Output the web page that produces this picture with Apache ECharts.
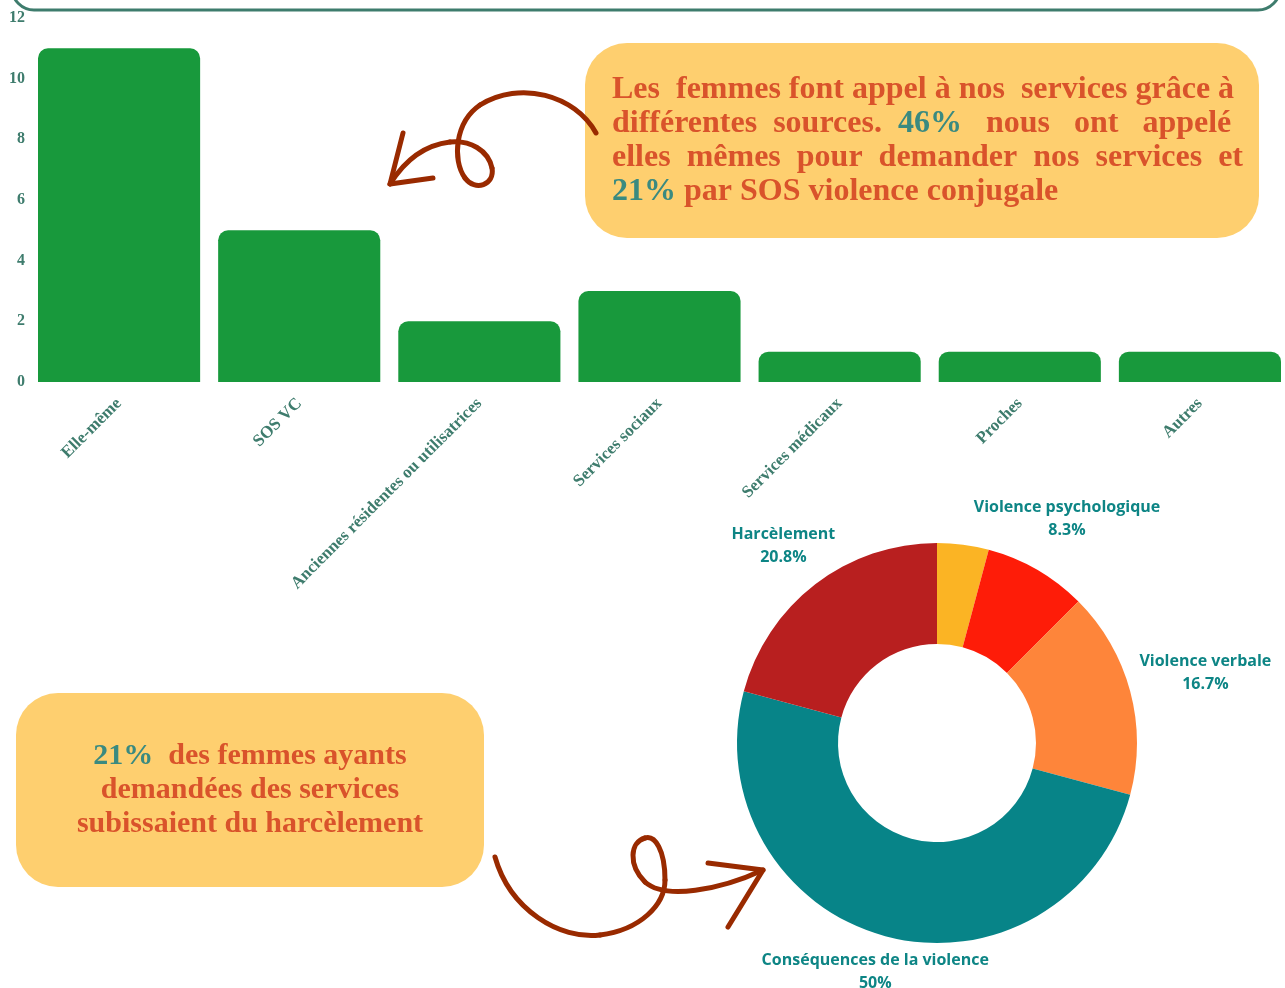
<!DOCTYPE html>
<html>
<head>
<meta charset="utf-8">
<script src="https://cdn.jsdelivr.net/npm/echarts@6/dist/echarts.min.js"></script>
<style>
  html, body { margin: 0; padding: 0; background: #fff; overflow: hidden; }
  /* a little wider than the window: the last bar runs right to the edge */
  #chart { width: 1300px; height: 988px; }
</style>
</head>
<body>
<div id="chart"></div>
<script>
// sources de demandes (bar chart)
const sourceLabels = ['Elle-même', 'SOS VC', 'Anciennes résidentes ou utilisatrices', 'Services sociaux', 'Services médicaux', 'Proches', 'Autres'];
const sourceCounts = [11, 5, 2, 3, 1, 1, 1];
const yTicks = [0, 2, 4, 6, 8, 10, 12];

// types de violence (donut), clockwise from the top
const violenceNames = ['Autres', 'Violence psychologique', 'Violence verbale', 'Conséquences de la violence', 'Harcèlement'];
const violenceCounts = [1, 2, 4, 12, 5];
const violenceColors = ['#fbb424', '#fe1c08', '#fe853a', '#078488', '#b81f1f'];
// small nudges so each label sits where the original put it
const violenceLabelOffsets = [[0, 0], [3, -4], [23, -4], [4, -16], [1, 4]];

const TEAL = '#3e7c6d';
const ORANGE = '#d9532b';
const BOX = '#fecf6f';
const BROWN = '#992a00';
const SERIF = '"Liberation Serif", "DejaVu Serif", serif';

const pieData = violenceNames.map((n, i) => ({
  name: n,
  value: violenceCounts[i],
  itemStyle: { color: violenceColors[i] },
}));
const total = violenceCounts.reduce((a, b) => a + b, 0);
const labelData = violenceNames.map((n, i) => ({
  name: n,
  value: violenceCounts[i],
  label: { show: i !== 0, offset: violenceLabelOffsets[i] },
}));

// hand-drawn arrows: [x1, y1, cpx1, cpy1, cpx2, cpy2, x2, y2] pieces + arrow head
const arrowTop = [
  [596, 133, 575, 95, 520, 80, 480, 105],
  [480, 105, 455, 122, 452, 160, 465, 178],
  [465, 178, 475, 192, 495, 185, 492, 168],
  [492, 168, 488, 150, 470, 140, 450, 142],
  [450, 142, 425, 145, 405, 160, 390, 184],
];
const arrowTopHead = [[403, 133], [390, 184], [433, 178]];
const arrowBottom = [
  [495, 857, 510, 910, 560, 940, 600, 935],
  [600, 935, 640, 930, 665, 905, 665, 880],
  [665, 880, 665, 850, 655, 835, 645, 838],
  [645, 838, 630, 842, 628, 865, 645, 882],
  [645, 882, 665, 900, 720, 890, 763, 870],
];
const arrowBottomHead = [[708, 863], [763, 870], [728, 927]];

const strokeStyle = { fill: 'none', stroke: BROWN, lineWidth: 5, lineCap: 'round', lineJoin: 'round' };
function arrowGraphics(pieces, head) {
  const out = pieces.map((s) => ({
    type: 'bezierCurve', z: 12,
    shape: { x1: s[0], y1: s[1], cpx1: s[2], cpy1: s[3], cpx2: s[4], cpy2: s[5], x2: s[6], y2: s[7] },
    style: strokeStyle,
  }));
  out.push({ type: 'polyline', z: 12, shape: { points: head }, style: strokeStyle });
  return out;
}

const chart = echarts.init(document.getElementById('chart'), null, { renderer: 'canvas' });

chart.setOption({
  backgroundColor: '#fff',
  animation: false,
  grid: { left: 29, top: 18, width: 1261, bottom: 606, containLabel: false },
  xAxis: {
    type: 'category',
    data: sourceLabels,
    axisLine: { show: false },
    axisTick: { show: false },
    axisLabel: {
      interval: 0, rotate: 45, margin: 19,
      fontFamily: SERIF, fontWeight: 'bold', fontSize: 17, color: TEAL,
    },
  },
  yAxis: {
    type: 'value',
    min: yTicks[0], max: yTicks[yTicks.length - 1], interval: 2,
    axisLine: { show: false },
    axisTick: { show: false },
    splitLine: { show: false },
    axisLabel: { margin: 4, fontFamily: SERIF, fontWeight: 'bold', fontSize: 16, color: TEAL },
  },
  series: [
    {
      type: 'bar',
      data: sourceCounts,
      barCategoryGap: '10%',
      itemStyle: { color: '#18993c', borderRadius: [10, 10, 0, 0] },
    },
    {
      type: 'pie',
      center: [937, 743],
      radius: [99, 200],
      startAngle: 90,
      clockwise: true,
      data: pieData,
      label: { show: false },
      labelLine: { show: false },
      silent: true,
    },
    {
      // transparent ring just to place the labels round the donut
      type: 'pie',
      center: [937, 743],
      radius: [200, 302],
      startAngle: 90,
      clockwise: true,
      data: labelData,
      itemStyle: { color: 'rgba(0,0,0,0)' },
      labelLine: { show: false },
      silent: true,
      label: {
        position: 'inside',
        fontFamily: '"Open Sans", sans-serif',
        fontWeight: 'bold',
        fontSize: 16,
        lineHeight: 23,
        color: '#0d8585',
        align: 'center',
        formatter: (p) => p.name + '\n' + (p.value / total * 100).toFixed(1).replace('.0', '') + '%',
      },
    },
  ],
  graphic: [
    // bottom of the frame above the chart
    { type: 'rect', shape: { x: 12, y: -40, width: 1268, height: 50, r: 22 }, style: { fill: 'none', stroke: TEAL, lineWidth: 3 }, z: 10 },
    // top-right note
    { type: 'rect', shape: { x: 585, y: 43, width: 674, height: 195, r: 42 }, style: { fill: BOX }, z: 10 },
    {
      type: 'text', x: 612, y: 73, z: 11,
      style: {
        text: 'Les  femmes font appel à nos  services grâce à\ndifférentes  sources.  {t|46%}   nous   ont   appelé\nelles  mêmes  pour  demander  nos  services  et\n{t|21%} par SOS violence conjugale',
        font: 'bold 32px ' + SERIF,
        fill: ORANGE,
        lineHeight: 34,
        rich: { t: { fill: '#3a8a80', font: 'bold 32px ' + SERIF, lineHeight: 34 } },
      },
    },
    // bottom-left note
    { type: 'rect', shape: { x: 16, y: 693, width: 468, height: 194, r: 42 }, style: { fill: BOX }, z: 10 },
    {
      type: 'text', x: 250, y: 790, z: 11,
      style: {
        text: '{t|21%}  des femmes ayants\ndemandées des services\nsubissaient du harcèlement',
        font: 'bold 30px ' + SERIF,
        fill: ORANGE,
        align: 'center',
        verticalAlign: 'middle',
        lineHeight: 34,
        rich: { t: { fill: '#3a8a80', font: 'bold 30px ' + SERIF, lineHeight: 34 } },
      },
    },
  ].concat(arrowGraphics(arrowTop, arrowTopHead), arrowGraphics(arrowBottom, arrowBottomHead)),
});
</script>
</body>
</html>
